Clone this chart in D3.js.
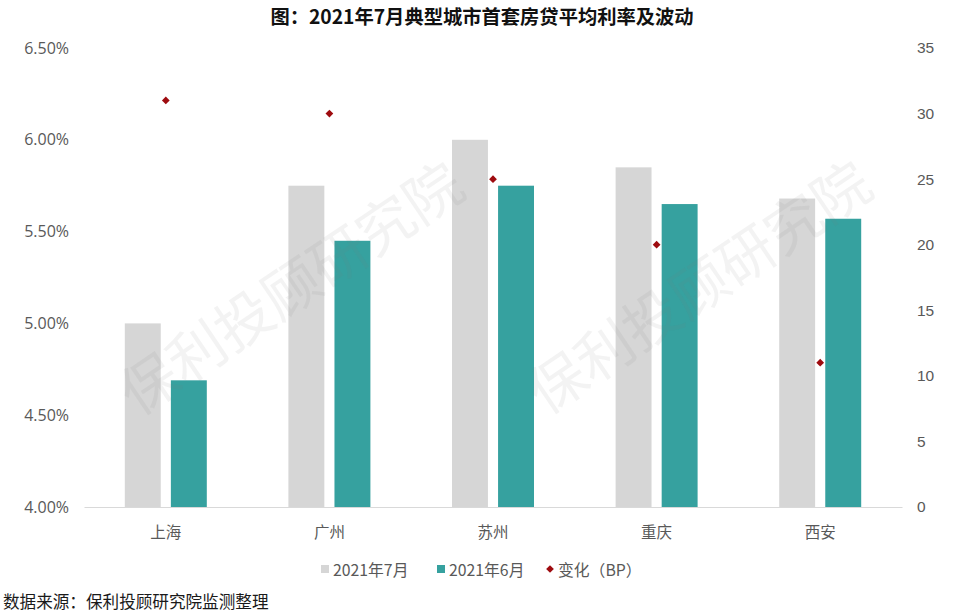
<!DOCTYPE html>
<html><head><meta charset="utf-8">
<script src="https://cdn.jsdelivr.net/npm/d3@7"></script>
<style>
html,body{margin:0;padding:0;background:#fff;}
svg{display:block;}
</style></head>
<body>
<svg id="chart" width="964" height="613"></svg>
<script>
const cities = ["上海","广州","苏州","重庆","西安"];
const rateJul = [5.00, 5.75, 6.00, 5.85, 5.68];
const rateJun = [4.69, 5.45, 5.75, 5.65, 5.57];
const changeBP = [31, 30, 25, 20, 11];
const leftTicks = [4.0, 4.5, 5.0, 5.5, 6.0, 6.5];
const rightTicks = [0, 5, 10, 15, 20, 25, 30, 35];
const seriesNames = ["2021年7月", "2021年6月", "变化（BP）"];
const titleText = "图：2021年7月典型城市首套房贷平均利率及波动";
const sourceText = "数据来源：保利投顾研究院监测整理";
const watermarkText = "保利投顾研究院";

(function () {
const cGray = "#d6d6d6", cTeal = "#36a19f", cRed = "#9e0b0f";
const cnFont = "'Noto Sans CJK SC', sans-serif";
const numFont = "'Open Sans', 'Noto Sans CJK SC', sans-serif";
const svg = d3.select("#chart");

const pL = 84, pR = 902, pT = 48, pB = 507;
const x0 = d3.scaleBand().domain(cities).range([pL, pR]).padding(0);
const x1 = d3.scaleBand().domain(["jul","jun"]).range([0, 82]).paddingInner(0.22);
const yL = d3.scaleLinear().domain([4.0, 6.5]).range([pB, pT]);
const yR = d3.scaleLinear().domain([0, 35]).range([pB, pT]);

// title
svg.append("text").attr("x", 482).attr("y", 24).attr("text-anchor", "middle")
  .attr("font-family", cnFont).attr("font-weight", "bold").attr("font-size", 19.3)
  .attr("fill", "#111").text(titleText);

// bars
const gx = c => x0(c) + x0.bandwidth() / 2 - 41;
const g = svg.append("g");
cities.forEach((c, i) => {
  g.append("rect").attr("x", gx(c) + x1("jul")).attr("width", x1.bandwidth())
    .attr("y", yL(rateJul[i])).attr("height", yL(4.0) - yL(rateJul[i])).attr("fill", cGray);
  g.append("rect").attr("x", gx(c) + x1("jun")).attr("width", x1.bandwidth())
    .attr("y", yL(rateJun[i])).attr("height", yL(4.0) - yL(rateJun[i])).attr("fill", cTeal);
});

// baseline axis
const xAxis = d3.axisBottom(x0).tickSize(0).tickPadding(20);
const xa = svg.append("g").attr("transform", `translate(0,${pB})`).call(xAxis);
xa.select(".domain").attr("stroke", "#d9d9d9").attr("stroke-width", 1);
xa.selectAll("text").attr("font-family", cnFont).attr("font-size", 15.5).attr("fill", "#595959");

// left axis
const la = svg.append("g").attr("transform", `translate(${pL},0)`)
  .call(d3.axisLeft(yL).tickValues(leftTicks).tickSize(0).tickPadding(15).tickFormat(d => d3.format(".2f")(d) + "%"));
la.select(".domain").remove();
la.selectAll("text").attr("font-family", numFont).attr("font-size", 16).attr("fill", "#595959");

// right axis
const ra = svg.append("g").attr("transform", `translate(${pR},0)`)
  .call(d3.axisRight(yR).tickValues(rightTicks).tickSize(0).tickPadding(15));
ra.select(".domain").remove();
ra.selectAll("text").attr("font-family", "'Liberation Sans', Arial, sans-serif").attr("font-size", 15.5).attr("fill", "#595959");

// diamonds
const diamond = d3.symbol().type(d3.symbolSquare).size(30);
cities.forEach((c, i) => {
  svg.append("path").attr("d", diamond())
    .attr("transform", `translate(${x0(c) + x0.bandwidth() / 2},${yR(changeBP[i])}) rotate(45)`)
    .attr("fill", cRed);
});

// watermark (drawn over bars, faint)
[[289, 285], [697, 284]].forEach(([cx, cy]) => {
  svg.append("text").attr("transform", `translate(${cx},${cy}) rotate(-34)`)
    .attr("text-anchor", "middle").attr("dominant-baseline", "central")
    .attr("font-family", cnFont).attr("font-size", 57)
    .attr("fill", "#7a7a7a").attr("fill-opacity", 0.09)
    .text(watermarkText);
});

// legend
const leg = svg.append("g").attr("font-family", cnFont).attr("font-size", 15.8).attr("fill", "#595959");
const legItems = [
  {x: 321, color: cGray, type: "sq"},
  {x: 437, color: cTeal, type: "sq"},
  {x: 546, color: cRed, type: "dm"}
];
legItems.forEach((d, i) => {
  if (d.type === "sq") {
    leg.append("rect").attr("x", d.x).attr("y", 565).attr("width", 8).attr("height", 8).attr("fill", d.color);
  } else {
    leg.append("path").attr("d", diamond()).attr("transform", `translate(${d.x + 4},569) rotate(45)`).attr("fill", d.color);
  }
  leg.append("text").attr("x", d.x + 12).attr("y", 569).attr("dominant-baseline", "central").text(seriesNames[i]);
});

// source
svg.append("text").attr("x", 3).attr("y", 601).attr("dominant-baseline", "central")
  .attr("font-family", cnFont).attr("font-size", 16.6).attr("fill", "#1a1a1a").text(sourceText);
})();
</script>
</body></html>
